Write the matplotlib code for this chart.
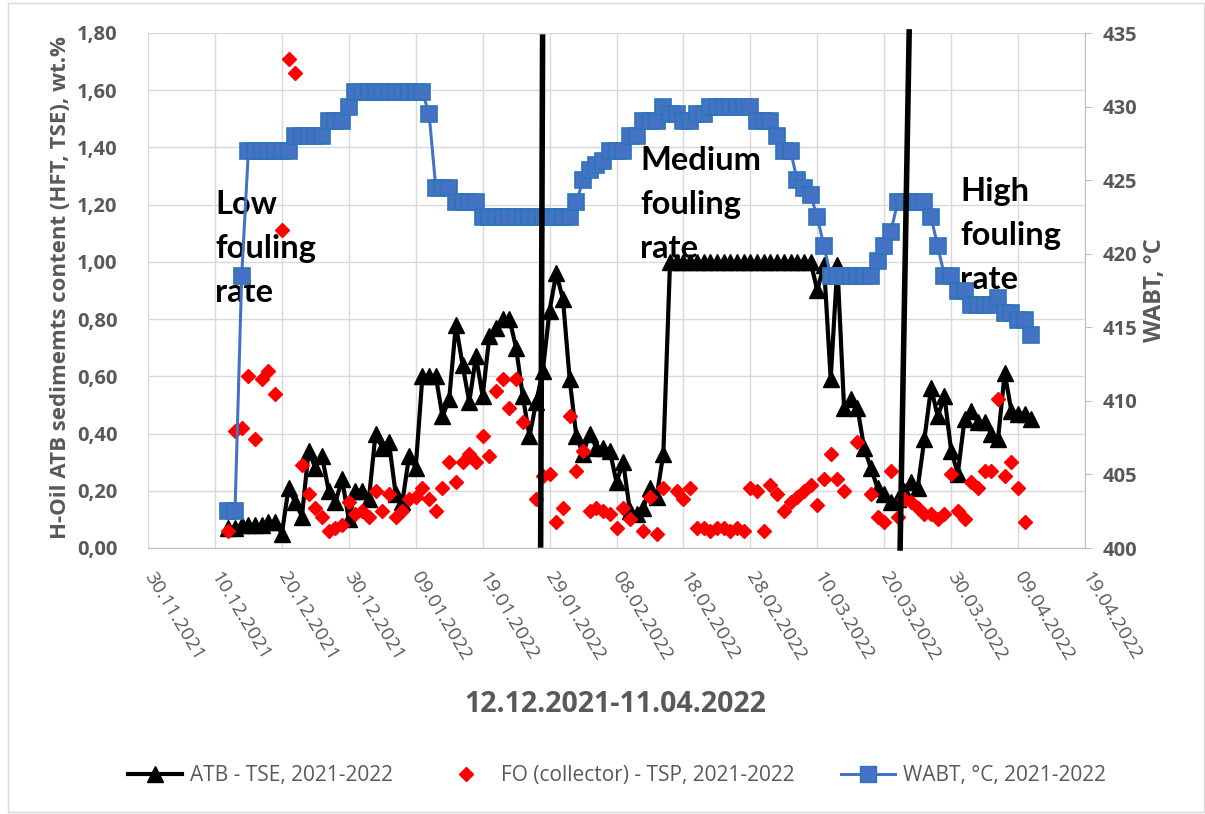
import matplotlib
matplotlib.use("Agg")
import matplotlib.pyplot as plt
import matplotlib.dates as mdates
import matplotlib.transforms as mtransforms
from matplotlib.ticker import FuncFormatter
from matplotlib.lines import Line2D
from matplotlib.patches import Rectangle
import pandas as pd

plt.rcParams['font.family'] = ['Open Sans', 'DejaVu Sans']

GREY = '#595959'
GRID = '#D9D9D9'

# daily series, first day 12.12.2021
start_day = '2021-12-12'

atb_tse = [0.07, 0.07, 0.08, 0.08, 0.08, 0.08, 0.09, 0.09, 0.05,
           0.21, 0.16, 0.11, 0.34, 0.28, 0.32, 0.20, 0.16, 0.24, 0.10,
           0.20, 0.20, 0.17, 0.40, 0.35, 0.37, 0.19, 0.16, 0.32, 0.28,
           0.60, 0.60, 0.60, 0.46, 0.52, 0.78, 0.64, 0.51, 0.67, 0.53,
           0.74, 0.77, 0.80, 0.80, 0.70, 0.53, 0.39, 0.51, 0.62, 0.83,
           0.96, 0.87, 0.59, 0.39, 0.33, 0.40, 0.35, 0.35, 0.34, 0.23,
           0.30, 0.13, 0.12, 0.14, 0.21, 0.18, 0.33, 1.00,
           1.00, 1.00, 1.00, 1.00, 1.00, 1.00, 1.00, 1.00, 1.00, 1.00, 1.00,
           1.00, 1.00, 1.00, 1.00, 1.00, 1.00, 1.00, 1.00, 1.00, 1.00,
           0.90, 0.99, 0.59, 0.99, 0.49, 0.52, 0.49, 0.35, 0.28, 0.21,
           0.19, 0.16, 0.17, 0.20, 0.23, 0.21, 0.38, 0.56, 0.46, 0.53,
           0.34, 0.26, 0.45, 0.48, 0.44, 0.44, 0.40, 0.38, 0.61, 0.48,
           0.47, 0.47, 0.45]

wabt = [402.5, 402.5, 418.5,
        427, 427, 427, 427, 427, 427, 427,
        428, 428, 428, 428, 428,
        429, 429, 429, 430,
        431, 431, 431, 431, 431, 431, 431, 431, 431, 431, 431,
        429.5, 424.5, 424.5, 424.5, 423.5, 423.5, 423.5, 423.5,
        422.5, 422.5, 422.5, 422.5, 422.5, 422.5, 422.5, 422.5, 422.5, 422.5,
        422.5, 422.5, 422.5, 422.5,
        423.5, 425, 425.7, 426, 426.3, 427, 427, 427, 428, 428,
        429, 429, 429, 430, 429.5, 429.5, 429, 429, 429.5, 429.5,
        430, 430, 430, 430, 430, 430, 430, 429, 429, 429, 428, 427, 427,
        425, 424.5, 424, 422.5, 420.5,
        418.5, 418.5, 418.5, 418.5, 418.5, 418.5, 418.5,
        419.5, 420.5, 421.5, 423.5, 423.5, 423.5, 423.5, 423.5,
        422.5, 420.5, 418.5, 418.5, 417.5, 417.5,
        416.5, 416.5, 416.5, 416.5, 417, 416, 416, 415.5, 415.5, 414.5]

# FO is not sampled every day: day number counted from 12.12.2021
fo_days = [0, 1, 2, 3, 4, 5, 6, 7, 8, 9, 10, 11, 12, 13, 14, 15, 16, 17, 18, 19,
           20, 21, 22, 23, 24, 25, 26, 27, 28, 29, 30, 31, 32, 33, 34, 35, 36, 37, 38, 39,
           40, 41, 42, 43, 44, 46, 47, 48, 49, 50, 51, 52, 53, 54, 55, 56, 57, 58, 59, 60,
           62, 63, 64, 65, 67, 68, 69, 70, 71, 72, 73, 74, 75, 76, 77, 78, 79, 80, 81, 82,
           83, 84, 85, 86, 87, 88, 89, 90, 91, 92, 94, 96, 97, 98, 99, 100, 101, 102, 103, 104,
           105, 106, 107, 108, 109, 110, 111, 112, 113, 114, 115, 116, 117, 118, 119]
fo_tsp = [0.06, 0.41, 0.42, 0.60, 0.38, 0.59, 0.62, 0.54, 1.11, 1.71, 1.66, 0.29, 0.19, 0.14, 0.11, 0.06, 0.07, 0.08, 0.16, 0.12,
          0.13, 0.11, 0.20, 0.13, 0.19, 0.11, 0.13, 0.17, 0.18, 0.21, 0.17, 0.13, 0.21, 0.30, 0.23, 0.30, 0.33, 0.30, 0.39, 0.32,
          0.55, 0.59, 0.49, 0.59, 0.44, 0.17, 0.25, 0.26, 0.09, 0.14, 0.46, 0.27, 0.34, 0.13, 0.14, 0.13, 0.12, 0.07, 0.14, 0.10,
          0.06, 0.18, 0.05, 0.21, 0.20, 0.17, 0.21, 0.07, 0.07, 0.06, 0.07, 0.07, 0.06, 0.07, 0.06, 0.21, 0.20, 0.06, 0.22, 0.19,
          0.13, 0.16, 0.18, 0.20, 0.22, 0.15, 0.24, 0.33, 0.24, 0.20, 0.37, 0.19, 0.11, 0.09, 0.27, 0.11, 0.17, 0.16, 0.14, 0.12,
          0.12, 0.10, 0.12, 0.26, 0.13, 0.10, 0.23, 0.21, 0.27, 0.27, 0.52, 0.25, 0.30, 0.21, 0.09]

x_ticks = pd.date_range('2021-11-30', '2022-04-19', freq='10D')

atb_dates = pd.date_range(start_day, periods=len(atb_tse), freq='D')
wabt_dates = pd.date_range(start_day, periods=len(wabt), freq='D')
fo_dates = pd.Timestamp(start_day) + pd.to_timedelta(fo_days, unit='D')

W, H = 1205, 814
fig = plt.figure(figsize=(W / 100, H / 100), dpi=100)
fig.patches.append(Rectangle((8 / W, 2 / H), 1 - 9 / W, 1 - 5 / H, transform=fig.transFigure,
                             fill=False, edgecolor='#D9D9D9', lw=1))

ax = fig.add_axes([148 / W, 1 - 548 / H, (1085 - 148) / W, (548 - 33) / H])
ax2 = ax.twinx()

ax.plot(atb_dates, atb_tse, color='black', lw=3, marker='^', ms=12, zorder=3)
ax.plot(fo_dates, fo_tsp, ls='none', marker='D', ms=7, color='#FF0000', zorder=4)
ax2.plot(wabt_dates, wabt, color='#4472C4', lw=2.2, marker='s', ms=11,
         mfc='#4472C4', mec='#2E75B6', mew=1.2)

ax.set_xlim(x_ticks[0], x_ticks[-1])
ax.set_ylim(0, 1.8)
ax.set_yticks([i / 5 for i in range(10)])
ax2.set_ylim(400, 435)
ax2.set_yticks(range(400, 436, 5))
ax.set_xticks(x_ticks)
ax.xaxis.set_major_formatter(mdates.DateFormatter('%d.%m.%Y'))
ax.yaxis.set_major_formatter(FuncFormatter(lambda v, p: f'{v:.2f}'.replace('.', ',')))

ax.grid(True, color=GRID, lw=1)
ax.set_axisbelow(True)
for s in ['top', 'left', 'right']:
    ax.spines[s].set_visible(False)
ax.spines['bottom'].set_color('#BFBFBF')
for s in ['top', 'left', 'bottom']:
    ax2.spines[s].set_visible(False)
ax2.spines['right'].set_color('#BFBFBF')

ax.tick_params(axis='y', length=0, pad=22, labelsize=14.5, labelcolor=GREY)
for t in ax.get_yticklabels():
    t.set_fontweight('bold')
ax2.tick_params(axis='y', length=5, color='#BFBFBF', pad=8, labelsize=14.5, labelcolor=GREY)
for t in ax2.get_yticklabels():
    t.set_fontweight('bold')
ax.tick_params(axis='x', length=0, pad=18, labelsize=14, labelcolor=GREY)
for t in ax.get_xticklabels():
    t.set_rotation(-59)
    t.set_rotation_mode('anchor')
    t.set_ha('left')
    t.set_va('center')

# phase separators
tr = mtransforms.blended_transform_factory(ax.transData, ax.transAxes)
ax2.plot([pd.Timestamp('2022-01-27 23:00'), pd.Timestamp('2022-01-27 16:00')], [0.992, 0.006],
         color='black', lw=4, transform=tr, clip_on=False, zorder=6)
ax2.plot([pd.Timestamp('2022-03-23 17:30'), pd.Timestamp('2022-03-22 09:00')], [1.002, 0.0],
         color='black', lw=4, transform=tr, clip_on=False, zorder=6)

txt = dict(fontsize=23.5, fontweight='bold', color='black', va='top', ha='left',
           linespacing=1.62, family=['Lato', 'DejaVu Sans'], zorder=7)
ax.text(mdates.date2num(pd.Timestamp('2021-12-10')), 1.25, 'Low\nfouling\nrate', **txt)
ax.text(mdates.date2num(pd.Timestamp('2022-02-11 14:00')), 1.405, 'Medium\nfouling\nrate', **txt)
ax.text(mdates.date2num(pd.Timestamp('2022-03-31 08:00')), 1.295, 'High\nfouling\nrate', **txt)

fig.text(61 / W, 1 - 288 / H, 'H-Oil ATB sedimemts content (HFT, TSE), wt.%', rotation=90,
         ha='center', va='center', fontsize=16, fontweight='bold', color=GREY)
fig.text(1155 / W, 1 - 290 / H, 'WABT, °C', rotation=90,
         ha='center', va='center', fontsize=17, fontweight='bold', color=GREY)
fig.text(615 / W, 1 - 705 / H, '12.12.2021-11.04.2022', ha='center', va='center',
         fontsize=20.5, fontweight='bold', color=GREY)

handles = [
    Line2D([], [], color='black', lw=3, marker='^', ms=12),
    Line2D([], [], ls='none', marker='D', ms=7, color='#FF0000'),
    Line2D([], [], color='#4472C4', lw=2.2, marker='s', ms=11, mfc='#4472C4', mec='#2E75B6'),
]
labels = ['ATB - TSE, 2021-2022', 'FO (collector) - TSP, 2021-2022', 'WABT, °C, 2021-2022']
leg = fig.legend(handles, labels, loc='center', bbox_to_anchor=(0.512, 1 - 776 / H), ncol=3,
                 frameon=False, fontsize=15, handlelength=2.6, columnspacing=2.2, handletextpad=0.4)
for t in leg.get_texts():
    t.set_color(GREY)

fig.savefig('out.png', dpi=100)
